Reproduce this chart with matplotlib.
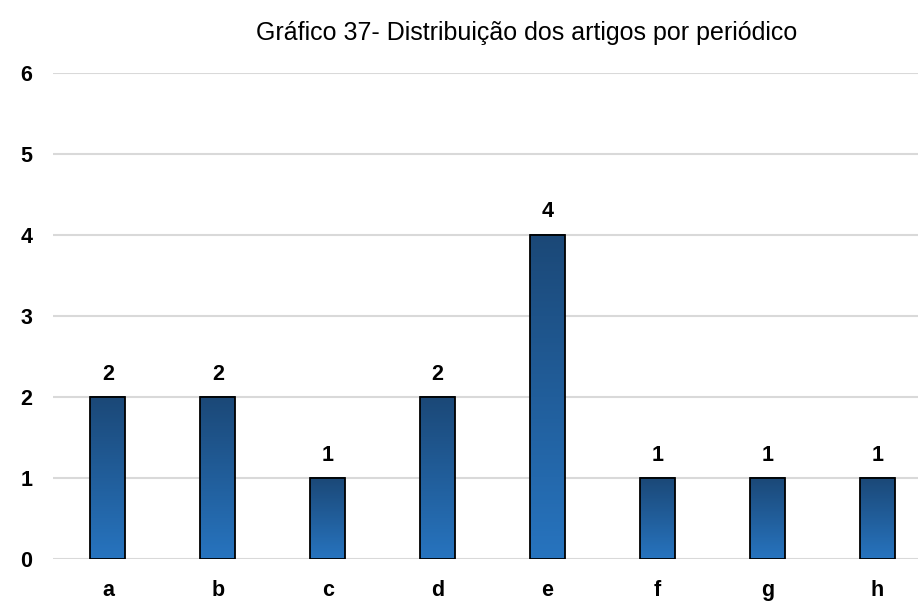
import numpy as np
import matplotlib
matplotlib.use("Agg")
import matplotlib.pyplot as plt
from matplotlib.colors import LinearSegmentedColormap

categories = ["a", "b", "c", "d", "e", "f", "g", "h"]
counts = [2, 2, 1, 2, 4, 1, 1, 1]
title = "Gráfico 37- Distribuição dos artigos por periódico"

plt.rcParams["font.family"] = ["Liberation Sans", "DejaVu Sans"]

fig = plt.figure(figsize=(9.18, 6.03), dpi=100)
ax = fig.add_axes([53 / 918, 43.7 / 603, 865 / 918, 486.6 / 603])

# bar fill: dark blue at the top fading to a lighter blue at the base
grad = LinearSegmentedColormap.from_list("bar", ["#2774bf", "#1b4877"])
ramp = np.linspace(0, 1, 256).reshape(-1, 1)

width = 0.318
x = np.arange(len(categories))
for xi, v in zip(x, counts):
    ax.imshow(ramp, cmap=grad, origin="lower", aspect="auto",
              extent=[xi - width / 2, xi + width / 2, 0, v], zorder=2,
              interpolation="bilinear")
ax.bar(x, counts, width=width, facecolor="none", edgecolor="black",
       linewidth=1.3, zorder=3)

for xi, v in zip(x, counts):
    ax.annotate(str(v), (xi, v), xytext=(0, 9), textcoords="offset points",
                ha="center", va="bottom", fontsize=15.5, fontweight="bold")

ax.set_xlim(-0.5, 7.37)
ax.set_ylim(0, 6)
ax.set_yticks(range(7))
ax.set_xticks(x)
ax.set_xticklabels(categories)
ax.tick_params(length=0, labelsize=15.5)
ax.tick_params(axis="x", pad=15)
ax.tick_params(axis="y", pad=15)
for lbl in ax.get_xticklabels() + ax.get_yticklabels():
    lbl.set_fontweight("bold")
ax.grid(axis="y", color="#d9d9d9", linewidth=1.5, zorder=0)
ax.set_axisbelow(True)
for s in ax.spines.values():
    s.set_visible(False)

fig.text(527 / 918, 1 - 33 / 603, title, ha="center", va="center", fontsize=18)

fig.savefig("out.png", dpi=100)
